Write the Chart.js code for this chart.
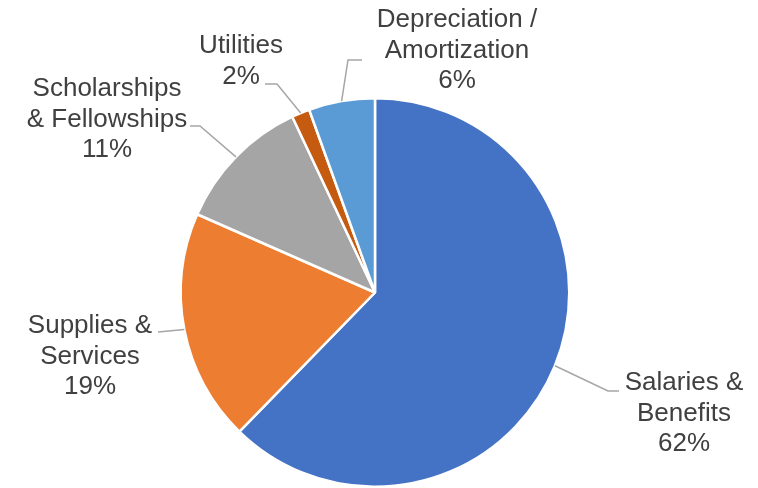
<!DOCTYPE html>
<html>
<head>
<meta charset="utf-8">
<script src="https://cdn.jsdelivr.net/npm/chart.js@4/dist/chart.umd.min.js"></script>
<style>
  html, body { margin: 0; padding: 0; background: #ffffff; }
  #wrap { width: 758px; height: 488px; position: relative; }
</style>
</head>
<body>
<div id="wrap"><canvas id="c" width="758" height="488"></canvas></div>
<script>
// ---- data ----
const categories = ["Salaries & Benefits", "Supplies & Services", "Scholarships & Fellowships", "Utilities", "Depreciation / Amortization"];
const labelLines = [["Salaries &", "Benefits"], ["Supplies &", "Services"], ["Scholarships", "& Fellowships"], ["Utilities"], ["Depreciation /", "Amortization"]];
const shares = [62.3, 19.3, 11.4, 1.5, 5.5];
const colors = ["#4472C4", "#ED7D31", "#A5A5A5", "#C55A11", "#5B9BD5"];

// ---- label layout (text positions & leader elbows) ----
const labelLayout = [
  { cx: 684, base: 390, elbow: [608, 391], end: [619, 391] },
  { cx: 90,  base: 333, elbow: [158, 332], end: [158, 332] },
  { cx: 107, base: 96,  elbow: [200, 126], end: [190, 126] },
  { cx: 241, base: 53,  elbow: [277, 84],  end: [265, 84] },
  { cx: 457, base: 27,  elbow: [348, 60],  end: [362, 60] }
];

const labelPlugin = {
  id: 'outLabels',
  afterDatasetsDraw(chart) {
    const ctx = chart.ctx;
    const meta = chart.getDatasetMeta(0);
    const ds = chart.data.datasets[0];
    ctx.save();
    meta.data.forEach((arc, i) => {
      const p = arc.getProps(['x', 'y', 'startAngle', 'endAngle', 'outerRadius'], true);
      const mid = (p.startAngle + p.endAngle) / 2;
      const sx = p.x + Math.cos(mid) * p.outerRadius;
      const sy = p.y + Math.sin(mid) * p.outerRadius;
      const L = labelLayout[i];
      ctx.strokeStyle = '#A6A6A6';
      ctx.lineWidth = 1.5;
      ctx.beginPath();
      ctx.moveTo(sx, sy);
      ctx.lineTo(L.elbow[0], L.elbow[1]);
      ctx.lineTo(L.end[0], L.end[1]);
      ctx.stroke();

      const lines = labelLines[i].concat([Math.round(ds.data[i]) + '%']);
      ctx.fillStyle = '#404040';
      ctx.font = '26px "Liberation Sans", Arial, sans-serif';
      ctx.textAlign = 'center';
      ctx.textBaseline = 'alphabetic';
      lines.forEach((t, k) => {
        ctx.fillText(t, L.cx, L.base + k * 30.5);
      });
    });
    ctx.restore();
  }
};

new Chart(document.getElementById('c'), {
  type: 'pie',
  data: {
    labels: categories,
    datasets: [{
      data: shares,
      backgroundColor: colors,
      borderColor: '#ffffff',
      borderWidth: 2.5
    }]
  },
  options: {
    responsive: false,
    animation: false,
    layout: { padding: { top: 97, bottom: -1, left: 179, right: 187 } },
    plugins: {
      legend: { display: false },
      tooltip: { enabled: false }
    }
  },
  plugins: [labelPlugin]
});
</script>
</body>
</html>
